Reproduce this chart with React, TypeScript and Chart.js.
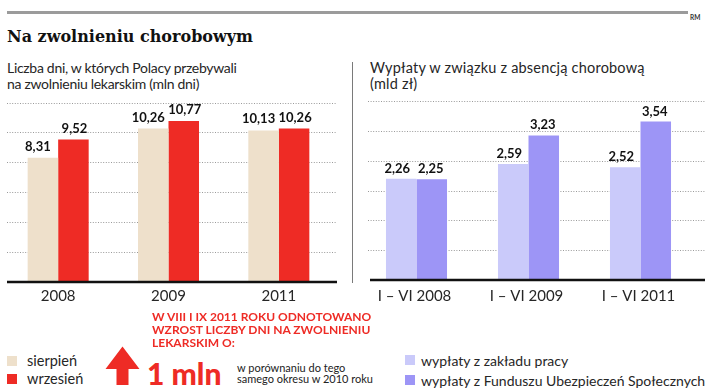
import React, { useEffect, useRef } from 'react';
import { Chart, registerables } from 'chart.js';

Chart.register(...registerables);

// ---- data ----
const leftCategories = ['2008', '2009', '2011'];
const sierpien = [8.31, 10.26, 10.13];
const wrzesien = [9.52, 10.77, 10.26];
const leftMax = 12;

const rightCategories = ['I – VI 2008', 'I – VI 2009', 'I – VI 2011'];
const zakladPracy = [2.26, 2.59, 2.52];
const funduszUS = [2.25, 3.23, 3.54];
const rightMax = 4;

const gridDivisions = 6;

// ---- colours ----
const BEIGE = '#EEE0CB';
const RED = '#EE2B25';
const LILAC = '#CACAFA';
const VIOLET = '#9D95F6';
const TEXT = '#262626';
const FONT = 'Lato, "Open Sans", sans-serif';

const fmt = (v: number) => v.toFixed(2).replace('.', ',');

const panelPlugin = {
  id: 'panel',
  beforeDatasetsDraw(chart: any, _a: any, o: any) {
    const { ctx, chartArea: ca, scales } = chart;
    const y = scales.y;
    ctx.save();
    ctx.strokeStyle = '#9a9a9a';
    ctx.lineWidth = 1;
    ctx.setLineDash([1, 1.6]);
    y.ticks.forEach((t: any) => {
      if (t.value === 0) return;
      const py = Math.round(y.getPixelForValue(t.value)) + 0.5;
      ctx.beginPath();
      ctx.moveTo(ca.left + o.gridFrom, py);
      ctx.lineTo(ca.right + o.gridTo, py);
      ctx.stroke();
    });
    ctx.restore();
  },
  afterDatasetsDraw(chart: any, _a: any, o: any) {
    const { ctx, chartArea: ca, scales } = chart;
    const y = scales.y;
    const x = scales.x;
    const y0 = y.getPixelForValue(0);
    ctx.save();
    // baseline
    ctx.setLineDash([]);
    ctx.strokeStyle = '#111';
    ctx.lineWidth = 2.5;
    ctx.beginPath();
    ctx.moveTo(ca.left + o.baseFrom, y0);
    ctx.lineTo(ca.right + o.baseTo, y0);
    ctx.stroke();
    // value labels
    ctx.fillStyle = '#111';
    ctx.font = `bold 13px ${FONT}`;
    ctx.textAlign = 'center';
    ctx.textBaseline = 'alphabetic';
    chart.data.datasets.forEach((ds: any, di: number) => {
      const meta = chart.getDatasetMeta(di);
      meta.data.forEach((bar: any, i: number) => {
        ctx.fillText(fmt(ds.data[i]), bar.x + o.labelDx[di], bar.y - o.labelGap);
      });
    });
    // category labels
    ctx.fillStyle = TEXT;
    ctx.font = `15px ${FONT}`;
    ctx.textBaseline = 'middle';
    chart.data.labels.forEach((l: string, i: number) => {
      ctx.fillText(l, x.getPixelForValue(i) + o.catDx, y0 + o.catGap);
    });
    ctx.restore();
  },
};

type PanelProps = {
  labels: string[];
  series: { data: number[]; color: string; name: string }[];
  max: number;
  left: number;
  top: number;
  width: number;
  height: number;
  padding: { left: number; right: number; top: number; bottom: number };
  categoryPercentage: number;
  panel: any;
};

function BarPanel(p: PanelProps) {
  const ref = useRef<HTMLCanvasElement>(null);
  useEffect(() => {
    if (!ref.current) return;
    const chart = new Chart(ref.current, {
      type: 'bar',
      data: {
        labels: p.labels,
        datasets: p.series.map((s) => ({
          label: s.name,
          data: s.data,
          backgroundColor: s.color,
          borderWidth: 0,
          barPercentage: 1,
          categoryPercentage: p.categoryPercentage,
        })),
      },
      options: {
        responsive: false,
        animation: false,
        layout: { padding: p.padding },
        events: [],
        plugins: {
          legend: { display: false },
          title: { display: false },
          tooltip: { enabled: false },
          panel: p.panel,
        } as any,
        scales: {
          x: { display: false },
          y: {
            display: false,
            min: 0,
            max: p.max,
            afterBuildTicks: (axis: any) => {
              axis.ticks = Array.from({ length: gridDivisions + 1 }, (_, i) => ({
                value: (i * p.max) / gridDivisions,
              }));
            },
          },
        },
      },
      plugins: [panelPlugin],
    });
    return () => chart.destroy();
  }, []);
  return (
    <canvas
      ref={ref}
      width={p.width}
      height={p.height}
      style={{ position: 'absolute', left: p.left, top: p.top, width: p.width, height: p.height }}
    />
  );
}

const abs = (l: number, t: number, extra: any = {}) => ({
  position: 'absolute' as const,
  left: l,
  top: t,
  whiteSpace: 'nowrap' as const,
  margin: 0,
  ...extra,
});

export default function App() {
  return (
    <div
      style={{
        position: 'fixed',
        left: 0,
        top: 0,
        width: 718,
        height: 388,
        background: '#fff',
        overflow: 'hidden',
        fontFamily: FONT,
        color: TEXT,
      }}
    >
      {/* top rule */}
      <div style={abs(7, 11, { width: 681, height: 2.5, background: '#9b9b9b' })} />
      <div style={abs(690, 14, { fontSize: 6.5, fontWeight: 700, lineHeight: '8px', color: '#333' })}>RM</div>
      <div
        style={abs(7, 27.5, {
          fontFamily: '"DejaVu Serif", serif',
          fontWeight: 700,
          fontSize: 16,
          lineHeight: '17px',
          color: '#111',
        })}
      >
        Na zwolnieniu chorobowym
      </div>

      {/* subtitles */}
      <div style={abs(7, 60, { fontSize: 14, lineHeight: '16px', letterSpacing: '-0.3px' })}>
        Liczba dni, w których Polacy przebywali
        <br />
        na zwolnieniu lekarskim (mln dni)
      </div>
      <div style={abs(370, 60, { fontSize: 14.5, lineHeight: '16px', letterSpacing: '0.2px' })}>
        Wypłaty w związku z absencją chorobową
        <br />
        (mld zł)
      </div>

      {/* separator */}
      <div style={abs(351.5, 62, { width: 1.5, height: 221, background: '#7a7a7a' })} />

      <BarPanel
        labels={leftCategories}
        series={[
          { name: 'sierpień', data: sierpien, color: BEIGE },
          { name: 'wrzesień', data: wrzesien, color: RED },
        ]}
        max={leftMax}
        left={0}
        top={90}
        width={350}
        height={220}
        padding={{ left: 3, right: 16, top: 12.5, bottom: 28 }}
        categoryPercentage={0.553}
        panel={{ gridFrom: 4, gridTo: 3, baseFrom: 4, baseTo: 3, labelDx: [-5, 1], labelGap: 7, catDx: 0, catGap: 14 }}
      />
      <BarPanel
        labels={rightCategories}
        series={[
          { name: 'wypłaty z zakładu pracy', data: zakladPracy, color: LILAC },
          { name: 'wypłaty z Funduszu Ubezpieczeń Społecznych', data: funduszUS, color: VIOLET },
        ]}
        max={rightMax}
        left={352}
        top={90}
        width={366}
        height={220}
        padding={{ left: 8.5, right: 21.5, top: 11, bottom: 30 }}
        categoryPercentage={0.545}
        panel={{ gridFrom: 7.5, gridTo: 8.5, baseFrom: 9.5, baseTo: 8.5, labelDx: [-4, -1], labelGap: 6, catDx: -2, catGap: 16 }}
      />

      {/* left legend */}
      <div style={abs(7, 356, { width: 10, height: 10, background: BEIGE })} />
      <div style={abs(27, 352, { fontSize: 14.5, lineHeight: '18px' })}>sierpień</div>
      <div style={abs(7, 374, { width: 10, height: 10, background: RED })} />
      <div style={abs(27, 370, { fontSize: 14.5, lineHeight: '18px' })}>wrzesień</div>

      {/* annotation */}
      <svg style={abs(105, 346)} width={36} height={40}>
        <polygon points="17.5,0.5 34.5,23 23.5,23 23.5,39 11.5,39 11.5,23 0.5,23" fill={RED} />
      </svg>
      <div
        style={abs(152, 310.4, {
          fontSize: 12,
          fontWeight: 700,
          lineHeight: '13px',
          color: RED,
        })}
      >
        W VIII I IX 2011 ROKU ODNOTOWANO
        <br />
        WZROST LICZBY DNI NA ZWOLNIENIU
        <br />
        LEKARSKIM O:
      </div>
      <div style={abs(147, 358.4, { fontSize: 30, fontWeight: 900, lineHeight: '30px', color: RED })}>1 mln</div>
      <div style={abs(237, 362, { fontSize: 11, lineHeight: '11px', color: '#222' })}>
        w porównaniu do tego
        <br />
        samego okresu w 2010 roku
      </div>

      {/* right legend */}
      <div style={abs(405, 355, { width: 10, height: 10, background: LILAC })} />
      <div style={abs(421, 351.5, { fontSize: 14, lineHeight: '18px' })}>wypłaty z zakładu pracy</div>
      <div style={abs(405, 375, { width: 10, height: 10, background: VIOLET })} />
      <div style={abs(421, 371.5, { fontSize: 14, lineHeight: '18px' })}>
        wypłaty z Funduszu Ubezpieczeń Społecznych
      </div>
    </div>
  );
}
